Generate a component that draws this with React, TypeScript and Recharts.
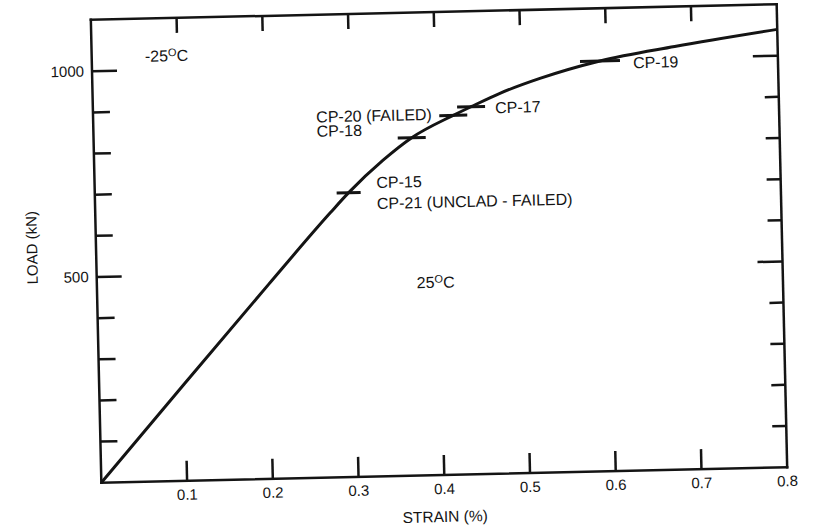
import { Line, LineChart, ReferenceDot, XAxis, YAxis } from "recharts";

// Load vs strain
const strain = [0, 0.1, 0.2, 0.274, 0.296, 0.337, 0.371, 0.42, 0.441, 0.475, 0.522, 0.5925, 0.68, 0.8];
const load = [0, 237, 472, 643, 691, 768, 821, 873, 893, 924, 958, 997, 1028, 1064];

// specimen marks on the curve
const markStrain = [0.296, 0.371, 0.42, 0.441, 0.5925];
const markLoad = [691, 821, 873, 893, 997];
const markNames = [
  ["CP-15", "CP-21 (UNCLAD - FAILED)"],
  ["CP-18"],
  ["CP-20 (FAILED)"],
  ["CP-17"],
  ["CP-19"],
];

const xTicks = [0.1, 0.2, 0.3, 0.4, 0.5, 0.6, 0.7, 0.8];
const xTopTicks = [0.1, 0.2, 0.3, 0.4, 0.5, 0.6, 0.7];
const yTicks = [100, 200, 300, 400, 500, 600, 700, 800, 900, 1000];
const yLabelled = [500, 1000];

// temperature notes, placed in data space
const coldNote = { strain: 0.062, load: 1020, temp: "-25" };
const warmNote = { strain: 0.373, load: 455, temp: "25" };

const rows = strain.map((s, i) => ({ strain: s, load: load[i] }));

const INK = "#141414";
const FONT = "'Liberation Sans', Arial, sans-serif";

// dash width and text offsets for each mark (px from mark centre)
const markLayout = [
  { w: 24, dx: 28, dy: -4 },
  { w: 28, dx: -95, dy: -3 },
  { w: 28, dx: -137, dy: 4 },
  { w: 28, dx: 24, dy: 7 },
  { w: 40, dx: 33, dy: 8 },
];

const BottomTick = (props: any) => {
  const { x, y, payload } = props;
  return (
    <g>
      {payload.value < 0.8 && (
        <line x1={x} y1={y} x2={x} y2={y - 20} stroke={INK} strokeWidth={2.5} />
      )}
      <text x={x} y={y + 19} textAnchor="middle" fontSize={15} fill={INK} fontFamily={FONT}>
        {payload.value}
      </text>
    </g>
  );
};

const TopTick = (props: any) => {
  const { x, y } = props;
  return <line x1={x} y1={y} x2={x} y2={y + 15} stroke={INK} strokeWidth={2.5} />;
};

const LeftTick = (props: any) => {
  const { x, y, payload } = props;
  const major = yLabelled.includes(payload.value);
  return (
    <g>
      <line x1={x} y1={y} x2={x + (major ? 25 : 17)} y2={y} stroke={INK} strokeWidth={2.5} />
      {major && (
        <text x={x - 8} y={y + 5} textAnchor="end" fontSize={15} fill={INK} fontFamily={FONT}>
          {payload.value}
        </text>
      )}
    </g>
  );
};

const RightTick = (props: any) => {
  const { x, y, payload } = props;
  const major = yLabelled.includes(payload.value);
  return <line x1={x} y1={y} x2={x - (major ? 25 : 14)} y2={y} stroke={INK} strokeWidth={2.5} />;
};

const TempNote = ({ cx, cy, temp }: any) => (
  <text x={cx} y={cy} fontSize={16} fill={INK} fontFamily={FONT}>
    {temp}
    <tspan fontSize={11} dy={-5}>O</tspan>
    <tspan dy={5}>C</tspan>
  </text>
);

const axisLine = { stroke: INK, strokeWidth: 2.5, strokeLinecap: "square" as const };

export default function App() {
  return (
    <div
      style={{
        position: "absolute",
        left: 0,
        top: 0,
        width: 818,
        height: 526,
        background: "#fff",
        fontFamily: FONT,
        transform: "rotate(-1.3deg)",
        transformOrigin: "439px 243px",
      }}
    >
      <LineChart width={818} height={526} data={rows} margin={{ top: 11, right: 35, bottom: 0, left: 0 }}>
        <XAxis
          xAxisId="b"
          dataKey="strain"
          type="number"
          domain={[0, 0.8]}
          ticks={xTicks}
          interval={0}
          allowDataOverflow
          height={51}
          tickSize={0}
          tickMargin={0}
          tickLine={false}
          axisLine={axisLine}
          tick={<BottomTick />}
          label={{
            content: ({ viewBox }: any) => (
              <text
                x={viewBox.x + viewBox.width / 2}
                y={viewBox.y + 47}
                textAnchor="middle"
                fontSize={15.5}
                fill={INK}
                fontFamily={FONT}
              >
                STRAIN (%)
              </text>
            ),
          }}
        />
        <XAxis
          xAxisId="t"
          orientation="top"
          dataKey="strain"
          type="number"
          domain={[0, 0.8]}
          ticks={xTopTicks}
          interval={0}
          allowDataOverflow
          height={1}
          tickSize={0}
          tickMargin={0}
          tickLine={false}
          axisLine={axisLine}
          tick={<TopTick />}
        />
        <YAxis
          yAxisId="l"
          type="number"
          domain={[0, 1125]}
          ticks={yTicks}
          interval={0}
          allowDataOverflow
          width={96}
          tickSize={0}
          tickMargin={0}
          tickLine={false}
          axisLine={axisLine}
          tick={<LeftTick />}
          label={{
            content: ({ viewBox }: any) => {
              const lx = viewBox.x + 37;
              const ly = viewBox.y + viewBox.height / 2 - 5;
              return (
                <text
                  x={lx}
                  y={ly}
                  transform={`rotate(-90 ${lx} ${ly})`}
                  textAnchor="middle"
                  fontSize={15}
                  fill={INK}
                  fontFamily={FONT}
                >
                  LOAD (kN)
                </text>
              );
            },
          }}
        />
        <YAxis
          yAxisId="r"
          orientation="right"
          type="number"
          domain={[0, 1125]}
          ticks={yTicks}
          interval={0}
          allowDataOverflow
          width={1}
          tickSize={0}
          tickMargin={0}
          tickLine={false}
          axisLine={axisLine}
          tick={<RightTick />}
        />
        <Line
          xAxisId="t"
          yAxisId="r"
          dataKey="load"
          stroke="none"
          dot={false}
          activeDot={false}
          legendType="none"
          isAnimationActive={false}
        />
        <Line
          xAxisId="b"
          yAxisId="l"
          type="monotone"
          dataKey="load"
          stroke={INK}
          strokeWidth={3}
          dot={false}
          activeDot={false}
          isAnimationActive={false}
        />
        {markStrain.map((s, i) => (
          <ReferenceDot
            key={markNames[i][0]}
            xAxisId="b"
            yAxisId="l"
            x={s}
            y={markLoad[i]}
            shape={({ cx, cy }: any) => {
              const lay = markLayout[i];
              return (
                <g>
                  <line
                    x1={cx - lay.w / 2}
                    x2={cx + lay.w / 2}
                    y1={cy}
                    y2={cy}
                    stroke={INK}
                    strokeWidth={3}
                  />
                  {markNames[i].map((t, j) => (
                    <text
                      key={t}
                      x={cx + lay.dx}
                      y={cy + lay.dy + j * 21}
                      fontSize={16}
                      fill={INK}
                      fontFamily={FONT}
                    >
                      {t}
                    </text>
                  ))}
                </g>
              );
            }}
          />
        ))}
        {[coldNote, warmNote].map((n) => (
          <ReferenceDot
            key={n.temp}
            xAxisId="b"
            yAxisId="l"
            x={n.strain}
            y={n.load}
            shape={(p: any) => <TempNote cx={p.cx} cy={p.cy} temp={n.temp} />}
          />
        ))}
      </LineChart>
    </div>
  );
}
